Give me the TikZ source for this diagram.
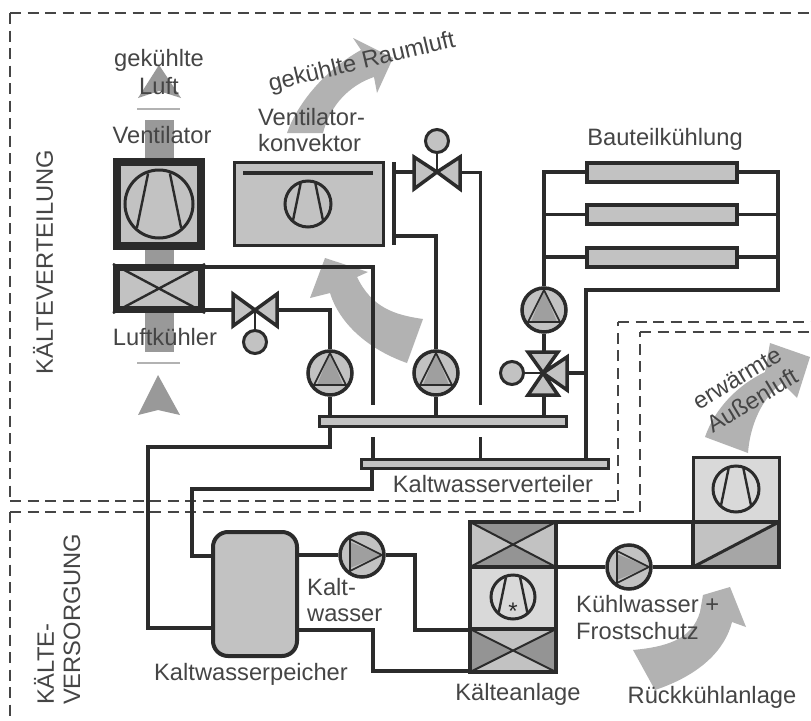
\documentclass[tikz,border=0pt]{standalone}
\usepackage{fontspec}
\setmainfont{Liberation Sans}
\definecolor{ink}{gray}{0.17}
\definecolor{txt}{gray}{0.27}
\definecolor{fillA}{gray}{0.76}
\definecolor{fillB}{gray}{0.85}
\definecolor{fillC}{gray}{0.58}
\definecolor{airA}{gray}{0.70}
\definecolor{airB}{gray}{0.60}
\tikzset{
  pipe/.style={draw=ink,line width=3.2pt},
  pipeslim/.style={draw=ink,line width=3pt},
  borderh/.style={draw=txt,line width=2.4pt,dash pattern=on 11pt off 6.5pt},
  borderv/.style={draw=txt,line width=1.6pt,dash pattern=on 11pt off 6.5pt},
  lbl/.style={text=txt,font=\fontsize{23.7}{26}\selectfont,inner sep=0pt,anchor=center},
  lbll/.style={lbl,anchor=west},
  part/.style={draw=ink,line width=3.5pt,fill=fillA},
  thin/.style={draw=ink,line width=2pt},
  big/.style={fill=airA,draw=none},
  air/.style={fill=airB,draw=none},
  dist/.style={draw=ink,line width=3pt,fill=fillA},
  actor/.style={circle,draw=ink,line width=3pt,fill=fillA,minimum size=23pt,inner sep=0pt},
}
\newcommand{\PumpUp}[2]{%
  \node[circle,draw=ink,line width=3.5pt,fill=fillA,minimum size=44pt,inner sep=0pt] (#1) at (#2) {};
  \begin{scope}[shift={(#2)}]
    \fill[fill=fillC!75!fillA] (-13,12)--(0,-20)--(13,12)--cycle;
    \draw[ink,line width=1.6pt] (-17,14)--(0,-20)--(17,14);
    \draw[ink,line width=1.6pt] (-18,12)--(18,12);
  \end{scope}}
\newcommand{\PumpRight}[2]{%
  \node[circle,draw=ink,line width=3.5pt,fill=fillA,minimum size=44pt,inner sep=0pt] (#1) at (#2) {};
  \begin{scope}[shift={(#2)}]
    \fill[fill=fillC!75!fillA] (-12,-13)--(20,0)--(-12,13)--cycle;
    \draw[ink,line width=1.6pt] (-14,-17)--(20,0)--(-14,17);
    \draw[ink,line width=1.6pt] (-12,-18)--(-12,18);
  \end{scope}}
\newcommand{\FanWheel}[3]{%
  \node[circle,draw=ink,line width=3pt,minimum size=#3*2pt,inner sep=0pt] (#1) at (#2) {};
  \begin{scope}[shift={(#2)}]
    \draw[ink,line width=2.4pt] (-0.32*#3,-0.90*#3)--(-0.65*#3,0.70*#3);
    \draw[ink,line width=2.4pt] (0.32*#3,-0.90*#3)--(0.65*#3,0.70*#3);
  \end{scope}}
\begin{document}
\begin{tikzpicture}[x=1pt,y=-1pt]
\useasboundingbox (0,0) rectangle (811,720);
\fill[white] (0,0) rectangle (811,720);

% dashed zone borders
\draw[borderh] (10,13) -- (811,13);
\draw[borderv] (10,13) -- (10,501);
\draw[borderh,line width=2pt] (10,501) -- (618,501);
\draw[borderv,line width=2pt] (618,501) -- (618,322);
\draw[borderh,line width=2pt] (618,322) -- (811,322);
\draw[borderv] (10,512) -- (10,720);
\draw[borderh] (10,512) -- (640,512);
\draw[borderv] (640,512) -- (640,332);
\draw[borderh,line width=2pt] (640,332) -- (811,332);

% large air arrows
\fill[big] (287,133) .. controls (297,105) and (322,72) .. (361,50) -- (353,38) -- (393,58) -- (377,93) -- (374,77)
  .. controls (350,85) and (330,105) .. (323,133) -- cycle;
\fill[big] (423,319) .. controls (395,315) and (372,308) .. (357,277) -- (368,272) -- (325,258) -- (310,298) -- (330,293)
  .. controls (340,325) and (370,350) .. (407,363) -- cycle;
\fill[big] (705,437) .. controls (715,408) and (738,385) .. (765,372) -- (770,343) -- (810,357) -- (797,398) -- (782,383)
  .. controls (762,398) and (750,425) .. (748,453) -- cycle;
\fill[big] (633,650) .. controls (665,647) and (692,640) .. (700,612) -- (703,595) -- (730,587) -- (746,627) -- (732,622)
  .. controls (725,650) and (700,675) .. (655,690) -- cycle;

% air column
\fill[air] (145,120) rectangle (174,352);
\fill[air] (159,65) -- (181,98) -- (159,91) -- (138,98) -- cycle;
\fill[air] (158,375) -- (180,415) -- (158,410) -- (138,415) -- cycle;
\draw[airA,line width=2pt] (137,109) -- (180,109);
\draw[airA,line width=2pt] (137,363) -- (180,363);

% parts
\node[part,line width=8pt,minimum width=84pt,minimum height=84pt,inner sep=0pt] (vent) at (159,204) {};
\FanWheel{ventfan}{159,204}{34}
\node[part,line width=7pt,minimum width=85pt,minimum height=42pt,inner sep=0pt] (lk) at (159,288.5) {};
\draw[ink,line width=2.4pt] (lk.north west) -- (lk.south east) (lk.south west) -- (lk.north east);

\node[part,minimum width=149pt,minimum height=83pt,inner sep=0pt] (vk) at (309,204) {};
\coordinate (vkbarL) at (243,173);
\coordinate (vkbarR) at (373,173);
\draw[ink,line width=3.5pt] (vkbarL) -- (vkbarR);
\FanWheel{vkfan}{308,204}{23}

\coordinate (barT) at (394,162);
\coordinate (barB) at (394,245);
\draw[ink,line width=4pt] (barT) -- (barB);

\node[dist,minimum width=247pt,minimum height=10pt,inner sep=0pt] (d1) at (442.5,421.5) {};
\node[dist,minimum width=247pt,minimum height=9pt,inner sep=0pt] (d2) at (484.5,463.5) {};

\node[draw=ink,line width=4pt,fill=fillA,rounded corners=15pt,minimum width=84pt,minimum height=124pt,inner sep=0pt] (sp) at (255,594) {};

\node[part,line width=4pt,minimum width=150pt,minimum height=19pt,inner sep=0pt] (b1) at (661.5,172) {};
\node[part,line width=4pt,minimum width=150pt,minimum height=19pt,inner sep=0pt] (b2) at (661.5,214.5) {};
\node[part,line width=4pt,minimum width=150pt,minimum height=19pt,inner sep=0pt] (b3) at (661.5,257) {};

\coordinate (hl) at (544,172);
\coordinate (hr) at (778,172);
\coordinate (ret) at (586,290);

\PumpUp{p1}{330,373}
\PumpUp{p2}{436,373}
\PumpUp{p3}{544,310}
\PumpRight{p4}{362,555}
\PumpRight{p5}{629,567}

% valves
\coordinate (v1) at (255,310);
\coordinate (v2) at (437,172);
\coordinate (v3) at (543,373);
\node[actor] (v1a) at (255,342) {};
\node[actor] (v2a) at (437,141) {};
\node[actor] (v3a) at (512,373) {};
\draw[thin] (v1) -- (v1a);
\draw[thin] (v2) -- (v2a);
\draw[thin] (v3) -- (v3a);
\filldraw[fill=fillA,draw=ink,line width=3.5pt,line join=miter] (v1) -- (233,294) -- (233,326) -- cycle (v1) -- (277,294) -- (277,326) -- cycle;
\filldraw[fill=fillA,draw=ink,line width=3.5pt] (v2) -- (414,157) -- (414,189) -- cycle (v2) -- (460,157) -- (460,189) -- cycle;
\filldraw[fill=fillA,draw=ink,line width=3.5pt] (v3) -- (528,352) -- (558,352) -- cycle (v3) -- (528,395) -- (558,395) -- cycle (v3) -- (567,357) -- (567,390) -- cycle;

% pipework
\draw[pipe] (205,267) -- (373,267) -- (373,405);
\coordinate (a1) at (373,437);
\draw[pipe] (a1) -- (a1 |- d2.north);
\draw[pipe] (205,310) -- (233,310);
\draw[pipe] (277,310) -- (330,310) -- (p1.north);
\draw[pipe] (p1.south) -- (p1.south |- d1.north);
\draw[pipe] (p2.north) -- (436,236) -- (394,236);
\draw[pipe] (p2.south) -- (p2.south |- d1.north);
\draw[pipe] (394,172) -- (414,172);
\draw[pipeslim] (460,172) -- (480,172) -- (480,405);
\coordinate (a2) at (480,437);
\draw[pipeslim] (a2) -- (a2 |- d2.north);
\draw[pipe] (b1.west) -- (hl) -- (p3.north);
\draw[pipe] (b2.west) -- (544,214.5);
\draw[pipe] (b3.west) -- (544,257);
\draw[pipe] (b1.east) -- (hr) -- (778,290) -- (ret) -- (586,458);
\draw[pipe] (b2.east) -- (778,214.5);
\draw[pipe] (b3.east) -- (778,257);
\draw[pipe] (p3.south) -- (544,352);
\draw[pipe] (544,395) -- (544,416);
\draw[pipe] (567,373) -- (586,373);
\draw[pipe] (330,427) -- (330,447) -- (148,447) -- (148,628) -- (sp.west |- 0,628);
\draw[pipe] (372,469) -- (372,489) -- (192,489) -- (192,556) -- (sp.west |- 0,556);
\draw[pipe] (sp.east |- 0,555) -- (p4.west);
\draw[pipe] (p4.east) -- (415,555) -- (415,630) -- (470,630);
\draw[pipe] (sp.east |- 0,630) -- (373,630) -- (373,671) -- (470,671);

% Kaelteanlage
\coordinate (kaNW) at (470,522);
\coordinate (kaNE) at (556,522);
\coordinate (kaMW) at (470,567);
\coordinate (kaME) at (556,567);
\coordinate (kaLW) at (470,629);
\coordinate (kaLE) at (556,629);
\coordinate (kaSW) at (470,672);
\coordinate (kaSE) at (556,672);
\coordinate (kaUC) at (513,544.5);
\coordinate (kaDC) at (513,650.5);
\fill[fillA] (kaNW) rectangle (kaME);
\fill[fillC] (kaNW) -- (kaNE) -- (kaUC) -- cycle (kaMW) -- (kaME) -- (kaUC) -- cycle;
\fill[fillB] (kaMW) rectangle (kaLE);
\fill[fillA] (kaLW) rectangle (kaSE);
\fill[fillC] (kaLW) -- (kaSW) -- (kaDC) -- cycle (kaLE) -- (kaSE) -- (kaDC) -- cycle;
\draw[thin] (kaNW) -- (kaME) (kaNE) -- (kaMW) (kaLW) -- (kaSE) (kaLE) -- (kaSW);
\draw[ink,line width=3.5pt,line join=miter] (kaNW) rectangle (kaSE) (kaMW) -- (kaME) (kaLW) -- (kaLE);
\FanWheel{kafan}{513,597}{22}
\node[text=ink,inner sep=0pt,font=\fontsize{24}{24}\selectfont] (star) at (513,611) {*};

% Rueckkuehlung
\coordinate (rkNW) at (693,457);
\coordinate (rkNE) at (779,457);
\coordinate (rkMW) at (693,522);
\coordinate (rkME) at (779,522);
\coordinate (rkSW) at (693,567);
\coordinate (rkSE) at (779,567);
\fill[fillB] (rkNW) rectangle (rkME);
\fill[fillA] (rkMW) rectangle (rkSE);
\fill[fillC!60!fillA] (rkSW) -- (rkME) -- (rkSE) -- cycle;
\draw[ink,line width=3pt] (rkNW) rectangle (rkME);
\draw[ink,line width=3.5pt] (rkMW) rectangle (rkSE);
\draw[ink,line width=3pt] (rkSW) -- (rkME);
\FanWheel{rkfan}{736,489}{23}
\draw[pipe] (kaNE) -- (rkMW);
\draw[pipe] (kaME) -- (p5.west);
\draw[pipe] (p5.east) -- (rkSW);

% labels
\node[lbl] (t1) at (159,60) {gekühlte};
\node[lbl] (t2) at (159,86) {Luft};
\node[lbl] (t3) at (162,135) {Ventilator};
\node[lbll] (t4) at (258,117) {Ventilator-};
\node[lbll] (t5) at (258,143) {konvektor};
\node[lbl,rotate=13.4] (t6) at (362,63) {gekühlte Raumluft};
\node[lbl] (t7) at (665,139) {Bauteilkühlung};
\node[lbl] (t8) at (165,337) {Luftkühler};
\node[lbl] (t9) at (493,484) {Kaltwasserverteiler};
\node[lbl,rotate=90] (t10) at (43,262) {KÄLTEVERTEILUNG};
\node[lbl,rotate=90,anchor=west] (t11) at (44,705) {KÄLTE-};
\node[lbl,rotate=90,anchor=west] (t12) at (72,705) {VERSORGUNG};
\node[lbll] (t13) at (307,587) {Kalt-};
\node[lbll] (t14) at (307,615) {wasser};
\node[lbl] (t15) at (251,674) {Kaltwasserpeicher};
\node[lbl] (t16) at (518,694) {Kälteanlage};
\node[lbll] (t17) at (576,604) {Kühlwasser +};
\node[lbll] (t18) at (576,631) {Frostschutz};
\node[lbl] (t19) at (712,697) {Rückkühlanlage};
\node[lbl,rotate=31] (t20) at (737,378) {erwärmte};
\node[lbl,rotate=31] (t21) at (752,400) {Außenluft};
\end{tikzpicture}
\end{document}
